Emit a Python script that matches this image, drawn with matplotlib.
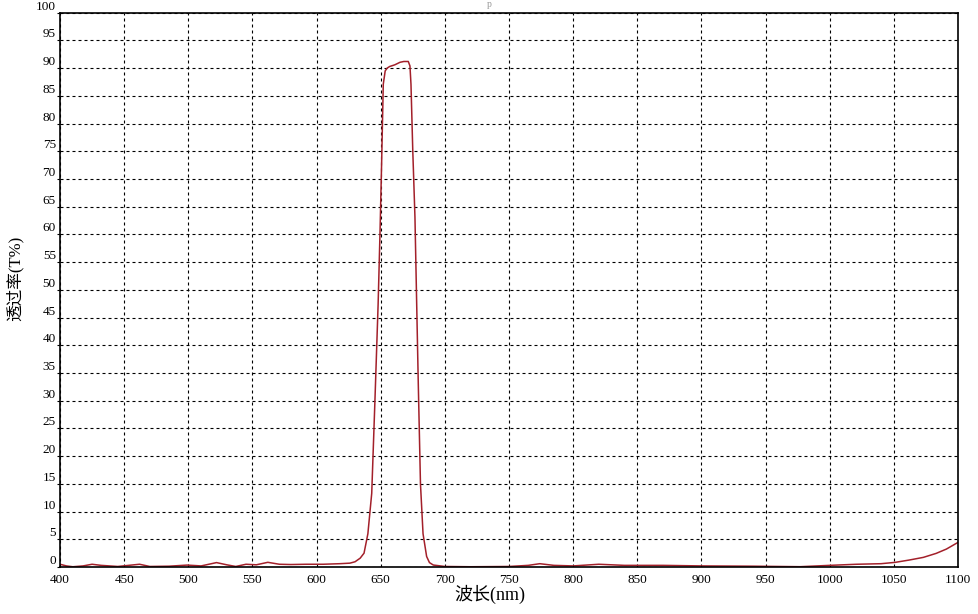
import matplotlib
matplotlib.use("Agg")
import matplotlib.pyplot as plt

plt.rcParams['font.family'] = ['Liberation Serif', 'Noto Sans CJK SC']

# wavelength (nm) and transmittance (%)
wavelength = [400, 405, 410, 418, 425, 432, 445, 462, 470, 485,
              499, 510, 522, 530, 537, 545, 553, 562, 571, 580,
              592, 605, 618, 626, 630, 634, 637, 640, 643, 645.5,
              648, 649.5, 650.7, 652, 653.5, 655, 657, 661, 665, 668,
              671.5, 672.8, 673.6, 675, 676.7, 678, 679.3, 681, 683, 685.8,
              688, 691, 700, 720, 750, 765, 774, 785, 800, 820,
              840, 870, 900, 940, 977, 1000, 1021, 1040, 1051, 1062,
              1073, 1083, 1091, 1100]
transmit = [0.5, 0.2, 0.05, 0.2, 0.5, 0.3, 0.1, 0.5, 0.1, 0.15,
            0.35, 0.2, 0.8, 0.4, 0.1, 0.5, 0.4, 0.85, 0.5, 0.45,
            0.5, 0.5, 0.6, 0.7, 0.95, 1.6, 2.5, 6, 13.3, 30,
            47.5, 60.7, 72.7, 87.1, 89.5, 90, 90.3, 90.6, 91.05, 91.2,
            91.2, 90.4, 87.1, 75.1, 63.1, 48, 33, 15, 6, 1.9,
            0.8, 0.36, 0.1, 0.05, 0.1, 0.3, 0.6, 0.3, 0.2, 0.5,
            0.3, 0.3, 0.2, 0.15, 0.06, 0.3, 0.5, 0.6, 0.84, 1.26,
            1.74, 2.46, 3.24, 4.44]

xticks = list(range(400, 1101, 50))
yticks = list(range(0, 101, 5))

fig = plt.figure(figsize=(9.79, 6.14), dpi=100)
ax = fig.add_axes([0.0613, 0.0765, 0.9172, 0.9028])

ax.plot(wavelength, transmit, color='#a3202a', lw=1.1)

ax.set_xlim(400, 1100)
ax.set_ylim(0, 100)
ax.set_xticks(xticks)
ax.set_yticks(yticks)
ax.grid(True, color='black', linestyle=(0, (2.7, 2.7)), linewidth=0.8)

for s in ax.spines.values():
    s.set_linewidth(1.2)
    s.set_color('black')

ax.tick_params(axis='x', length=0, pad=5, labelsize=9.5)
ax.tick_params(axis='y', length=2, pad=1, labelsize=9.5)
for lab in ax.get_yticklabels():
    lab.set_verticalalignment('bottom')

ax.set_xlabel('波长(nm)', fontsize=13)
ax.xaxis.set_label_coords((490 - 60) / 898, -0.032)
ax.set_ylabel('透过率(T%)', fontsize=12)
ax.yaxis.set_label_coords(-0.041, 0.52)

# title is mostly off the top edge in the reference, only a sliver shows
fig.text(0.4995, 0.9995, 'p', fontsize=7, color='#999999', ha='center', va='top')

fig.savefig('out.png', dpi=100)
